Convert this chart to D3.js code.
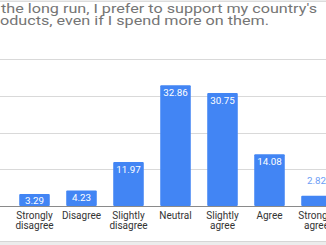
<!DOCTYPE html>
<html><head><meta charset="utf-8">
<script src="https://cdn.jsdelivr.net/npm/d3@7"></script>
<style>html,body{margin:0;padding:0;background:#fff;overflow:hidden}</style>
</head><body>
<svg id="c" width="326" height="245"></svg>
<script>
// title split where the reference crops it at the left edge
const titleHidden = ["In", "pr"];
const titleVisible = ["the long run, I prefer to support my country's", "oducts, even if I spend more on them."];
const categories = ["Strongly disagree", "Disagree", "Slightly disagree", "Neutral", "Slightly agree", "Agree", "Strongly agree"];
const values = [3.29, 4.23, 11.97, 32.86, 30.75, 14.08, 2.82];
const yTicks = [0, 10, 20, 30, 40];

const svg = d3.select("#c");
const W = 326, H = 245;
const font = "Roboto, Arial, sans-serif";

// frame lines
svg.append("rect").attr("x", 0).attr("y", 0.5).attr("width", W).attr("height", 1.5).attr("fill", "#dcdcdc");
svg.append("rect").attr("x", 0).attr("y", 241).attr("width", W).attr("height", 4).attr("fill", "#ececec");
svg.append("line").attr("x1", 0).attr("x2", W).attr("y1", 241.5).attr("y2", 241.5).attr("stroke", "#d6d6d6");

const x = d3.scaleBand().domain(categories).range([11, 340]).paddingInner(0.35).paddingOuter(0.175);
const y = d3.scaleLinear().domain([0, 40]).range([206, 59]);

// gridlines
svg.append("g").selectAll("line").data(yTicks.filter(d => d > 0)).join("line")
  .attr("x1", 0).attr("x2", W).attr("y1", d => Math.round(y(d)) + 0.5).attr("y2", d => Math.round(y(d)) + 0.5)
  .attr("stroke", "#d9d9d9").attr("stroke-width", 1);

// title
const tfs = 12.5;
const tg = svg.append("g").attr("font-family", font).attr("font-size", tfs).attr("fill", "#757575");
const tY = [13.3, 25];
const tStart = [1, 0];
const tLen = [316, 269];
titleVisible.forEach((s, i) => {
  tg.append("text").attr("x", tStart[i] - 1).attr("y", tY[i]).attr("text-anchor", "end").text(titleHidden[i]);
  tg.append("text").attr("x", tStart[i]).attr("y", tY[i])
    .attr("textLength", tLen[i]).attr("lengthAdjust", "spacingAndGlyphs").text(s);
});

// bars
const data = categories.map((c, i) => ({c, v: values[i]}));
svg.append("g").selectAll("rect").data(data).join("rect")
  .attr("x", d => x(d.c)).attr("width", x.bandwidth())
  .attr("y", d => y(d.v)).attr("height", d => y(0) - y(d.v))
  .attr("fill", "#4285f4").attr("rx", 1);

// axis baseline
svg.append("line").attr("x1", 0).attr("x2", W).attr("y1", 206.5).attr("y2", 206.5).attr("stroke", "#8a8a8a");

// value labels
svg.append("g").selectAll("text").data(data).join("text")
  .attr("font-family", font).attr("font-size", 9.8).attr("text-anchor", "middle")
  .attr("x", d => x(d.c) + x.bandwidth() / 2)
  .attr("y", d => {
    const h = y(0) - y(d.v);
    if (h < 12) return y(d.v) - 12;
    return Math.min(y(d.v) + 11, 203.5);
  })
  .attr("fill", d => (y(0) - y(d.v) < 12) ? "#6d9ef5" : "#ffffff")
  .text(d => d.v.toFixed(2));

// category labels
const lab = svg.append("g").selectAll("text").data(categories).join("text")
  .attr("font-family", font).attr("font-size", 10).attr("fill", "#333")
  .attr("text-anchor", "middle")
  .attr("x", d => x(d) + x.bandwidth() / 2).attr("y", 219);
lab.each(function(d) {
  const words = d.split(" ");
  const el = d3.select(this);
  words.forEach((w, i) => {
    el.append("tspan").attr("x", x(d) + x.bandwidth() / 2).attr("dy", i === 0 ? 0 : 10).text(w);
  });
});
</script>
</body></html>
